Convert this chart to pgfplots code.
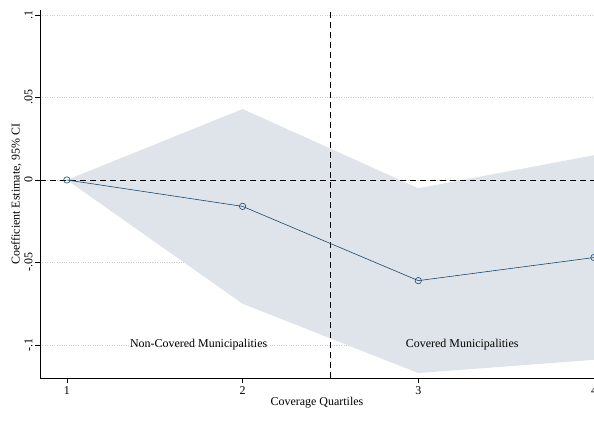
\documentclass[border=0pt]{standalone}
\usepackage{pgfplots}
\pgfplotsset{compat=1.18}
\usepackage{fontspec}
\setmainfont{Liberation Serif}
\definecolor{ci}{RGB}{222,228,233}
\definecolor{ln}{RGB}{26,71,111}
\begin{document}
\begin{tikzpicture}
\clip (-40bp,-48bp) rectangle (554bp,378bp);
\begin{axis}[scale only axis, width=554bp, height=368bp,
 xmin=0.847, xmax=4, ymin=-0.12, ymax=0.103,
 axis x line*=bottom, axis y line*=left,
 xtick={1,2,3,4}, ytick={-0.1,-0.05,0,0.05,0.1},
 yticklabels={-.1,-.05,0,.05,.1},
 yticklabel style={rotate=90, anchor=south, yshift=-1pt},
 /pgf/number format/assume math mode=true,
 tick style={black, thin}, tick align=outside, major tick length=5bp,
 axis line style={thin},
 ymajorgrids, grid style={dotted, gray!40},
 xlabel={Coverage Quartiles}, ylabel={Coefficient Estimate, 95\% CI},
 xlabel style={yshift=4pt}, ylabel style={yshift=-4pt},
 tick label style={font=\fontsize{12}{14}\selectfont}, label style={font=\fontsize{12}{14}\selectfont},
 clip=false]
\addplot[fill=ci, draw=none] coordinates {(1,0)(2,0.043)(3,-0.005)(4,0.015)(4,-0.109)(3,-0.117)(2,-0.075)(1,0)} -- cycle;
\draw[dashed, semithick, dash pattern=on 6bp off 4bp] (axis cs:0.847,0) -- (axis cs:4,0);
\draw[dashed, semithick, dash pattern=on 6bp off 4bp] (axis cs:2.5,-0.12) -- (axis cs:2.5,0.103);
\addplot[color=ln, semithick, mark=o, mark size=3.2bp, mark options={solid}] coordinates {(1,0)(2,-0.016)(3,-0.061)(4,-0.047)};
\node[font=\fontsize{12}{14}\selectfont] at (axis cs:1.75,-0.1) {Non-Covered Municipalities};
\node[font=\fontsize{12}{14}\selectfont] at (axis cs:3.25,-0.1) {Covered Municipalities};
\end{axis}
\end{tikzpicture}
\end{document}
